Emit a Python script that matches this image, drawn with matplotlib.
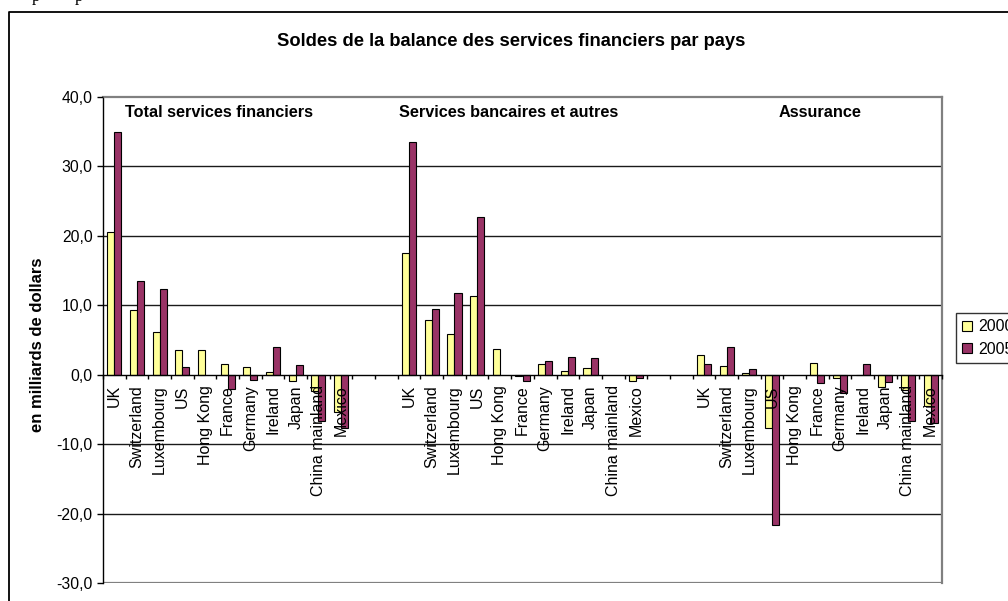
import numpy as np
import matplotlib
matplotlib.use("Agg")
import matplotlib.pyplot as plt
from matplotlib.lines import Line2D
from matplotlib.patches import Patch

plt.rcParams["font.family"] = ["Liberation Sans", "DejaVu Sans"]

nan = np.nan

countries = ["UK", "Switzerland", "Luxembourg", "US", "Hong Kong", "France",
             "Germany", "Ireland", "Japan", "China mainland", "Mexico"]

group_titles = ["Total services financiers", "Services bancaires et autres", "Assurance"]
years = ["2000", "2005"]

# Balances in billions of dollars
total_2000 = [20.5, 9.3, 6.2, 3.5, 3.5, 1.5, 1.15, 0.4, -0.9, -2.35, -5.4]
total_2005 = [34.9, 13.5, 12.4, 1.15, nan, -2.1, -0.7, 4.0, 1.35, -6.7, -7.65]
bank_2000 = [17.6, 7.9, 5.8, 11.3, 3.65, -0.2, 1.5, 0.6, 0.95, nan, -0.9]
bank_2005 = [33.5, 9.5, 11.7, 22.7, nan, -0.9, 2.0, 2.55, 2.4, nan, -0.5]
ins_2000 = [2.9, 1.3, 0.2, -7.65, nan, 1.7, -0.5, -0.1, -1.8, -2.2, -4.5]
ins_2005 = [1.5, 4.0, 0.8, -21.6, nan, -1.25, -2.7, 1.5, -1.05, -6.7, -7.0]

y_ticks = [-30, -20, -10, 0, 10, 20, 30, 40]

# Three blocks of countries separated by two empty slots
gap = 2
labels = countries + [""] * gap + countries + [""] * gap + countries
vals_2000 = total_2000 + [nan] * gap + bank_2000 + [nan] * gap + ins_2000
vals_2005 = total_2005 + [nan] * gap + bank_2005 + [nan] * gap + ins_2005
x = np.arange(len(labels))

W, H = 1008, 601
fig = plt.figure(figsize=(W / 100, H / 100), dpi=100)
fig.patch.set_facecolor("white")


def fx(px):
    return px / W


def fy(py):
    return 1 - py / H


ax = fig.add_axes([fx(103), fy(583), fx(942) - fx(103), fy(97) - fy(583)])
ax.set_axisbelow(False)

yellow = "#FFFF99"
purple = "#993366"
bw = 0.31
ax.bar(x - bw / 2, vals_2000, width=bw, color=yellow, edgecolor="black",
       linewidth=0.8, zorder=2)
ax.bar(x + bw / 2, vals_2005, width=bw, color=purple, edgecolor="black",
       linewidth=0.8, zorder=2)

ax.set_xlim(-0.5, len(labels) - 0.5)
ax.set_ylim(-30, 40)

# gridlines behind the bars
for v in y_ticks:
    if v not in (0, -30, 40):
        ax.axhline(v, color="#1a1a1a", linewidth=1.0, zorder=0.5)
ax.axhline(-30, color="#808080", linewidth=1.6, zorder=0.6)

ax.spines["bottom"].set_position(("data", 0))
ax.spines["bottom"].set_color("black")
ax.spines["bottom"].set_linewidth(1.0)
ax.spines["left"].set_color("black")
ax.spines["left"].set_linewidth(1.0)
for s in ("top", "right"):
    ax.spines[s].set_color("#808080")
    ax.spines[s].set_linewidth(1.6)

ax.set_yticks(y_ticks)
ax.set_yticklabels([f"{v:.1f}".replace(".", ",") for v in y_ticks], fontsize=11.3)
ax.tick_params(axis="y", direction="out", length=4.5, width=1.0, pad=3)

ax.set_xticks(x)
ax.set_xticklabels(labels, rotation=90, fontsize=11.5)
ax.set_xticks(np.arange(len(labels) + 1) - 0.5, minor=True)
ax.tick_params(axis="x", which="major", length=0, pad=7.5)
ax.tick_params(axis="x", which="minor", direction="out", length=3, width=1.0)

fig.text(fx(38), fy(345), "en milliards de dollars", rotation=90, ha="center",
         va="center", fontsize=12, fontweight="bold")

fig.text(fx(511), fy(42), "Soldes de la balance des services financiers par pays",
         ha="center", va="center", fontsize=13.2, fontweight="bold")

for cx, t in zip([219, 509, 820], group_titles):
    fig.text(fx(cx), fy(112), t, ha="center", va="center", fontsize=11.7,
             fontweight="bold")

handles = [Patch(facecolor=yellow, edgecolor="black", linewidth=0.8),
           Patch(facecolor=purple, edgecolor="black", linewidth=0.8)]
leg = fig.legend(handles, years, loc="upper left",
                 bbox_to_anchor=(fx(956), fy(313)), borderaxespad=0,
                 fontsize=11.5, frameon=True, fancybox=False, shadow=False,
                 handlelength=0.6, handleheight=0.6, handletextpad=0.4,
                 labelspacing=0.45, borderpad=0.4)
leg.get_frame().set_edgecolor("black")
leg.get_frame().set_linewidth(1.0)

# chart frame
fig.add_artist(Line2D([fx(9), fx(9), 1.0], [0.0, fy(12), fy(12)],
                      transform=fig.transFigure, color="black", linewidth=1.3))

# descenders of the line of text above the chart
for px in (32, 75):
    fig.text(fx(px), fy(1), "p", ha="left", va="baseline", fontsize=12,
             family=["Liberation Serif", "DejaVu Serif"])

fig.savefig("out.png", dpi=100, facecolor="white")
